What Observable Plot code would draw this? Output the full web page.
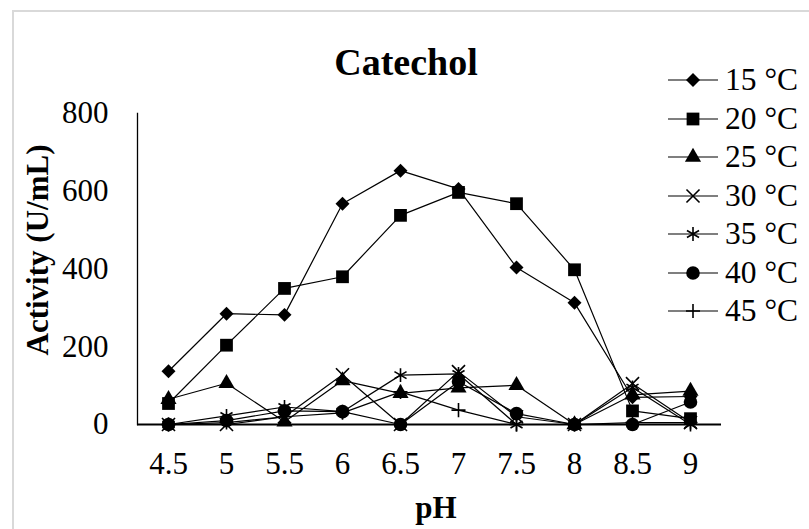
<!DOCTYPE html>
<html><head><meta charset="utf-8">
<script src="https://cdn.jsdelivr.net/npm/d3@7"></script>
<script src="https://cdn.jsdelivr.net/npm/@observablehq/plot@0.6"></script>
<style>
body{margin:0;background:#fff;}
#wrap{position:relative;width:809px;height:529px;overflow:hidden;font-family:"Liberation Serif","Times New Roman",serif;color:#000;background:#fff;}
#wrap > svg{position:absolute;left:0;top:0;}
.border{position:absolute;left:12px;top:10px;width:900px;height:700px;border:2px solid #d9d9d9;box-sizing:border-box;}
.title{position:absolute;left:406px;top:43px;transform:translateX(-50%);font-size:38px;font-weight:bold;line-height:1;white-space:nowrap;}
.ytitle{position:absolute;left:37px;top:250px;transform:translate(-50%,-50%) rotate(-90deg);font-size:31px;font-weight:bold;line-height:1;white-space:nowrap;}
.xtitle{position:absolute;left:436px;top:507px;transform:translate(-50%,-50%);font-size:31px;font-weight:bold;line-height:1;white-space:nowrap;}
.leg{position:absolute;left:668px;height:30px;display:flex;align-items:center;white-space:nowrap;font-size:31.5px;line-height:1;}
.leg svg{display:block;margin-right:7px;flex:none;}
</style></head><body><div id="wrap"><div class="border"></div></div>
<script>
const categories = ["4.5","5","5.5","6","6.5","7","7.5","8","8.5","9"];
const seriesNames = ["15 °C","20 °C","25 °C","30 °C","35 °C","40 °C","45 °C"];
const s15 = [137,285,282,568,653,606,404,313,70,72];
const s20 = [54,204,350,380,538,597,568,398,35,15];
const s25 = [65,106,7,113,80,94,101,0,76,86];
const s30 = [0,0,20,128,0,136,20,0,105,5];
const s35 = [0,22,45,33,127,130,0,0,95,0];
const s40 = [0,10,35,33,0,110,28,0,0,58];
const s45 = [0,5,20,30,84,37,0,0,5,5];
const yTicks = [0,200,400,600,800];
const titleText = "Catechol";
const xLabel = "pH";
const yLabel = "Activity (U/mL)";

const seriesValues = [s15,s20,s25,s30,s35,s40,s45];
const symbols = ["diamond2","square","triangle","times","asterisk","circle","plus"];
const d3Symbols = {diamond2:d3.symbolDiamond2,square:d3.symbolSquare,triangle:d3.symbolTriangle,times:d3.symbolTimes,asterisk:d3.symbolAsterisk,circle:d3.symbolCircle,plus:d3.symbolPlus};
const radii = [6.3,7.2,6,6,6.6,6.8,4.6];
const filledSet = new Set(["diamond2","square","triangle","circle"]);

const marks = [
  Plot.axisX({tickSize:0,tickPadding:27,fontSize:31,label:null}),
  Plot.axisY({ticks:yTicks,tickSize:0,tickPadding:29,fontSize:31,label:null}),
  Plot.frame({anchor:"left",strokeWidth:1.3})
];
seriesNames.forEach((name,i)=>{
  const rows = categories.map((c,j)=>({pH:c,activity:seriesValues[i][j],series:name}));
  const filled = filledSet.has(symbols[i]);
  marks.push(Plot.line(rows,{x:"pH",y:"activity",stroke:"black",strokeWidth:1.2}));
  marks.push(Plot.dot(rows,{x:"pH",y:"activity",symbol:symbols[i],r:radii[i],
    fill:filled?"black":"none",stroke:filled?"none":"black",strokeWidth:filled?0:1.6}));
});
marks.push(Plot.ruleY([0],{stroke:"black",strokeWidth:2}));

const chart = Plot.plot({
  width:809,height:529,
  marginLeft:137,marginRight:88,marginTop:113,marginBottom:105,
  style:{fontFamily:'"Liberation Serif","Times New Roman",serif',fontSize:"31px",color:"black",background:"transparent",overflow:"visible"},
  x:{type:"point",domain:categories,padding:0.5},
  y:{domain:[0,800]},
  marks
});
const wrap = document.getElementById("wrap");
wrap.appendChild(chart);

const t = document.createElement("div"); t.className="title"; t.textContent=titleText; wrap.appendChild(t);
const yt = document.createElement("div"); yt.className="ytitle"; yt.textContent=yLabel; wrap.appendChild(yt);
const xt = document.createElement("div"); xt.className="xtitle"; xt.textContent=xLabel; wrap.appendChild(xt);

seriesNames.forEach((name,i)=>{
  const row = document.createElement("div");
  row.className="leg";
  row.style.top = (80 + 38.5*i - 15) + "px";
  const svg = d3.create("svg").attr("width",50).attr("height",30);
  svg.append("line").attr("x1",0).attr("x2",50).attr("y1",15).attr("y2",15).attr("stroke","black").attr("stroke-width",1.2);
  const filled = filledSet.has(symbols[i]);
  svg.append("path").attr("transform","translate(25,15)")
    .attr("d",d3.symbol(d3Symbols[symbols[i]], Math.PI*radii[i]*radii[i])())
    .attr("fill",filled?"black":"none").attr("stroke",filled?"none":"black").attr("stroke-width",filled?0:1.6);
  row.appendChild(svg.node());
  const sp = document.createElement("span"); sp.textContent=name; row.appendChild(sp);
  wrap.appendChild(row);
});
</script></body></html>
